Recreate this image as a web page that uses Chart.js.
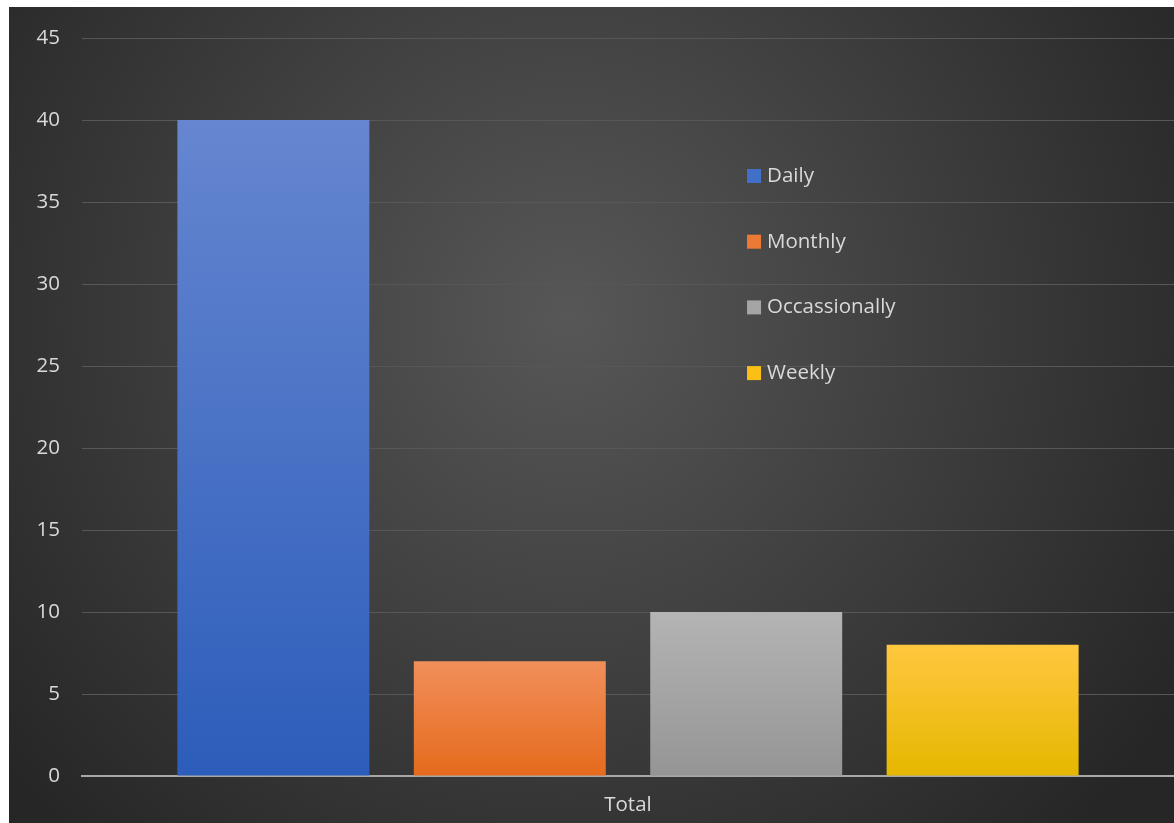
<!DOCTYPE html>
<html>
<head>
<meta charset="utf-8">
<script src="https://cdn.jsdelivr.net/npm/chart.js@4"></script>
<style>
  html, body { margin: 0; padding: 0; background: #ffffff; }
  #wrap { position: absolute; left: 9px; top: 7px; width: 1165px; height: 816px; }
</style>
</head>
<body>
<div id="wrap"><canvas id="chart"></canvas></div>
<script>
// Survey frequency chart — single "Total" category, one bar per answer.
const categories = ['Total'];
const seriesNames = ['Daily', 'Monthly', 'Occassionally', 'Weekly'];
const seriesValues = [40, 7, 10, 8];
const yTicks = [0, 5, 10, 15, 20, 25, 30, 35, 40, 45];

// top/bottom colours of each bar's vertical gradient, plus legend swatch
const barTop = ['#6686d0', '#f18f5a', '#b4b4b4', '#ffc73f'];
const barBottom = ['#2c5dba', '#e56a1c', '#959595', '#e6b700'];
const swatch = ['#4270c8', '#ec7a35', '#a5a5a5', '#fbbf16'];

const FONT = '"Open Sans", Lato, sans-serif';
const TEXT = '#d9d9d9';

function barFill(i) {
    return (ctx) => {
        const area = ctx.chart.chartArea;
        if (!area) return barBottom[i];
        const y = ctx.chart.scales.y;
        const g = ctx.chart.ctx.createLinearGradient(0, y.getPixelForValue(seriesValues[i]), 0, area.bottom);
        g.addColorStop(0, barTop[i]);
        g.addColorStop(1, barBottom[i]);
        return g;
    };
}

// dark radial backdrop like the Office style
const backdrop = {
    id: 'backdrop',
    beforeDraw(chart) {
        const { ctx, width, height } = chart;
        const g = ctx.createRadialGradient(width * 0.48, height * 0.38, 0, width * 0.48, height * 0.38, width * 0.62);
        g.addColorStop(0, '#575757');
        g.addColorStop(1, '#262626');
        ctx.save();
        ctx.fillStyle = g;
        ctx.fillRect(0, 0, width, height);
        ctx.restore();
    },
};

// legend sits inside the plot area, stacked vertically
const insideLegend = {
    id: 'insideLegend',
    afterDraw(chart) {
        const { ctx, chartArea } = chart;
        const x = chartArea.left + chartArea.width * 0.609;
        ctx.save();
        ctx.font = '20.5px ' + FONT;
        ctx.textBaseline = 'middle';
        seriesNames.forEach((name, i) => {
            const y = chartArea.bottom - 600 + i * 65.7;
            ctx.fillStyle = swatch[i];
            ctx.fillRect(x, y - 7, 14, 14);
            ctx.fillStyle = TEXT;
            ctx.fillText(name, x + 20, y);
        });
        ctx.restore();
    },
};

new Chart(document.getElementById('chart'), {
    type: 'bar',
    data: {
        labels: categories,
        datasets: seriesNames.map((name, i) => ({
            label: name,
            data: [seriesValues[i]],
            backgroundColor: barFill(i),
            borderWidth: 0,
            categoryPercentage: 0.866,
            barPercentage: 0.812,
        })),
    },
    options: {
        responsive: true,
        maintainAspectRatio: false,
        animation: false,
        layout: { padding: { top: 31, right: 0, left: 0, bottom: 0 } },
        plugins: {
            legend: { display: false },
            tooltip: { enabled: false },
        },
        scales: {
            x: {
                grid: { display: false, drawTicks: false },
                border: { color: '#a8a8a8', width: 2 },
                ticks: { color: TEXT, font: { family: FONT, size: 20.5 }, padding: 17 },
                afterFit: (s) => { s.height = 47; },
            },
            y: {
                min: 0,
                max: 45,
                afterBuildTicks: (s) => { s.ticks = yTicks.map((v) => ({ value: v })); },
                grid: {
                    drawTicks: false,
                    color: (c) => (c.tick && c.tick.value === 0 ? 'rgba(0,0,0,0)' : '#575757'),
                    lineWidth: 1,
                },
                border: { display: false },
                ticks: { color: TEXT, font: { family: FONT, size: 20.5 }, padding: 22 },
                afterFit: (s) => { s.width = 73; s.paddingTop = 0; s.paddingBottom = 0; },
            },
        },
    },
    plugins: [backdrop, insideLegend],
});
</script>
</body>
</html>
